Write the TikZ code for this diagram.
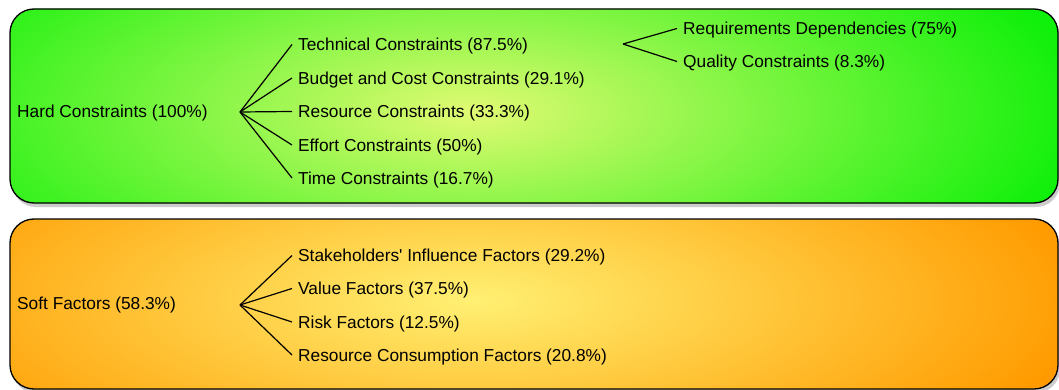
\documentclass[tikz,border=0pt]{standalone}
\usepackage{fontspec}
\setmainfont{Liberation Sans}[Ligatures=TeXOff]
\usetikzlibrary{shadows}
\definecolor{gout}{RGB}{15,240,10}
\definecolor{gin}{RGB}{225,250,115}
\definecolor{oout}{RGB}{255,155,0}
\definecolor{oin}{RGB}{255,240,115}
\begin{document}
\begin{tikzpicture}[x=1pt,y=-1pt,
  lbl/.style={anchor=west,inner xsep=6pt,inner ysep=0pt,text height=12.4pt,text depth=0pt,font=\fontsize{17.3}{20}\selectfont},
  conn/.style={line width=1.2pt},
  panel/.style={rounded corners=24pt,line width=1.3pt}]
\useasboundingbox (0,0) rectangle (1059,390);
\fill[white] (0,0) rectangle (1059,390);
% green panel
\path[panel,fill=gout,drop shadow={opacity=0.4,shadow xshift=2pt,shadow yshift=-4pt}] (10,9) rectangle (1058,203);
\begin{scope}
\clip[rounded corners=24pt] (10,9) rectangle (1058,203);
\shade[inner color=gin,outer color=gout] (470,112) ellipse (620 and 230);
\end{scope}
\draw[panel] (10,9) rectangle (1058,203);
% orange panel
\path[panel,fill=oout,drop shadow={opacity=0.4,shadow xshift=2pt,shadow yshift=-4pt}] (10,219) rectangle (1058,389);
\begin{scope}
\clip[rounded corners=24pt] (10,219) rectangle (1058,389);
\shade[inner color=oin,outer color=oout] (470,300) ellipse (620 and 200);
\end{scope}
\draw[panel] (10,219) rectangle (1058,389);
% hard constraints
\node[lbl] (hc) at (11,111) {Hard Constraints (100\%)};
\coordinate (h1) at (240,112);
\node[lbl] (tc) at (292,44.5) {Technical Constraints (87.5\%)};
\node[lbl] (bc) at (292,78) {Budget and Cost Constraints (29.1\%)};
\node[lbl] (rc) at (292,111.5) {Resource Constraints (33.3\%)};
\node[lbl] (ec) at (292,145) {Effort Constraints (50\%)};
\node[lbl] (tm) at (292,178) {Time Constraints (16.7\%)};
\foreach \n in {tc,bc,rc,ec,tm} \draw[conn] (h1) -- (\n.west);
\coordinate (h2) at (623,44);
\node[lbl] (rd) at (677,28.5) {Requirements Dependencies (75\%)};
\node[lbl] (qc) at (677,61.5) {Quality Constraints (8.3\%)};
\foreach \n in {rd,qc} \draw[conn] (h2) -- (\n.west);
% soft factors
\node[lbl] (sf) at (11,303.5) {Soft Factors (58.3\%)};
\coordinate (h3) at (240,305);
\node[lbl] (si) at (292,255.5) {Stakeholders' Influence Factors (29.2\%)};
\node[lbl] (vf) at (292,288.5) {Value Factors (37.5\%)};
\node[lbl] (rf) at (292,322) {Risk Factors (12.5\%)};
\node[lbl] (rcf) at (292,355) {Resource Consumption Factors (20.8\%)};
\foreach \n in {si,vf,rf,rcf} \draw[conn] (h3) -- (\n.west);
\end{tikzpicture}
\end{document}
